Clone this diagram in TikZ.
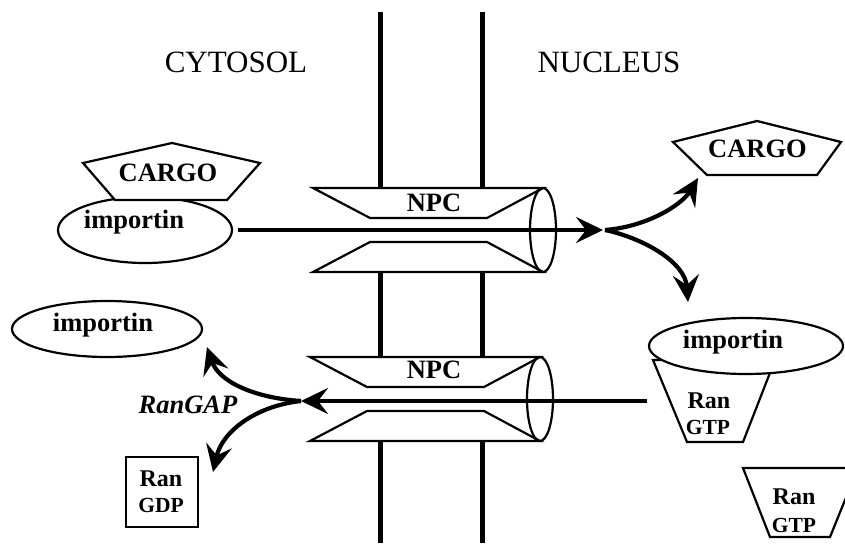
\documentclass[tikz,border=0pt]{standalone}
\usepackage{fontspec}
\setmainfont{Liberation Serif}
\usetikzlibrary{arrows.meta,shapes.geometric}
\begin{document}
\begin{tikzpicture}[x=1pt,y=-1pt,
  membrane/.style={line width=5pt},
  outline/.style={line width=2.2pt, line join=miter},
  flow/.style={line width=4.2pt, -{Stealth[length=27pt,width=26pt,inset=10pt]}},
  region/.style={font=\fontsize{31}{33}\selectfont, inner sep=0pt},
  tag/.style={font=\fontsize{26.5}{28}\selectfont\bfseries, inner sep=0pt},
  enzyme/.style={font=\fontsize{26.5}{28}\selectfont\bfseries\itshape, inner sep=0pt},
  ran/.style={font=\fontsize{24}{26}\selectfont\bfseries, inner sep=0pt},
  nuc/.style={font=\fontsize{21.5}{23}\selectfont\bfseries, inner sep=0pt},
  pore/.pic={
    \draw[outline, fill=white] (-230,-42) -- (0,-42) -- (-56,-12) -- (-173,-12) -- cycle;
    \draw[outline, fill=white] (-230,42) -- (0,42) -- (-56,12) -- (-173,12) -- cycle;
    \draw[outline] (0,0) ellipse [x radius=13, y radius=42];
  }]
\useasboundingbox (0,0) rectangle (845,543);
\clip (0,0) rectangle (845,543);

% nuclear envelope
\foreach \mx in {380,482}{
  \draw[membrane] (\mx,12) -- (\mx,188);
  \draw[membrane] (\mx,272) -- (\mx,357);
  \draw[membrane] (\mx,441) -- (\mx,543);
}

% compartments
\node[region] (cyto) at (236,62.5) {CYTOSOL};
\node[region] (nucl) at (609,62.5) {NUCLEUS};

% nuclear pore complexes
\pic at (543,230) {pore};
\pic at (540,399) {pore};
\node[tag] (npcA) at (434,203) {NPC};
\node[tag] (npcB) at (434,370) {NPC};

% import complex in the cytosol
\node[ellipse, draw, outline, minimum width=174pt, minimum height=66pt, inner sep=0pt] (impA) at (145,230) {};
\draw[outline, fill=white] (172,143) -- (260,163) -- (227,200) -- (115,200) -- (83,163) -- cycle;
\node[tag] (cargoA) at (168,172.5) {CARGO};
\node[tag] (impAtxt) at (134,222) {importin};

% released cargo in the nucleus
\draw[outline, fill=white] (757,121) -- (841,142) -- (817,175) -- (707,175) -- (673,142) -- cycle;
\node[tag] (cargoB) at (757.5,148.5) {CARGO};

% importin bound to Ran-GTP
\draw[outline] (653,360) -- (775,360) -- (743,442) -- (687,442) -- cycle;
\node[ellipse, draw, outline, fill=white, minimum width=194pt, minimum height=56pt, inner sep=0pt] (impB) at (746,346) {};
\node[tag] (impBtxt) at (733,342) {importin};
\node[ran] (ranB) at (709,401) {Ran};
\node[nuc] (gtpB) at (708,427.5) {GTP};

% free Ran-GTP
\draw[outline] (743,468) -- (858,468) -- (830,537) -- (770,537) -- cycle;
\node[ran] (ranC) at (794,496.5) {Ran};
\node[nuc] (gtpC) at (794,525) {GTP};

% recycled importin
\node[ellipse, draw, outline, minimum width=190pt, minimum height=56pt, inner sep=0pt] (impC) at (107,329) {};
\node[tag] (impCtxt) at (103,325) {importin};

% Ran-GDP
\node[draw, outline, minimum width=72pt, minimum height=70pt, inner sep=0pt] (gdpBox) at (162,492) {};
\node[ran] (ranD) at (161,478.5) {Ran};
\node[nuc] (gdpD) at (161,505.5) {GDP};

\node[enzyme] (gap) at (188,404.5) {RanGAP};

% branch points and free arrow ends
\coordinate (split) at (603,230);
\coordinate (toCargo) at (698,178);
\coordinate (toImp) at (688,302);
\coordinate (back) at (647,401);
\coordinate (merge) at (301,401);
\coordinate (toImpC) at (207,347);
\coordinate (toGdp) at (213,472);

% import
\draw[flow] ([xshift=5pt]impA.east) -- (split);
\draw[flow] ([xshift=2pt]split) .. controls (645,227) and (681,206) .. (toCargo);
\draw[flow] ([xshift=2pt]split) .. controls (643,238) and (685,262) .. (toImp);

% export and GTP hydrolysis
\draw[flow] (back) -- (merge);
\draw[flow] (merge) .. controls (255,398) and (219,382) .. (toImpC);
\draw[flow] (merge) .. controls (255,406) and (222,432) .. (toGdp);
\end{tikzpicture}
\end{document}
